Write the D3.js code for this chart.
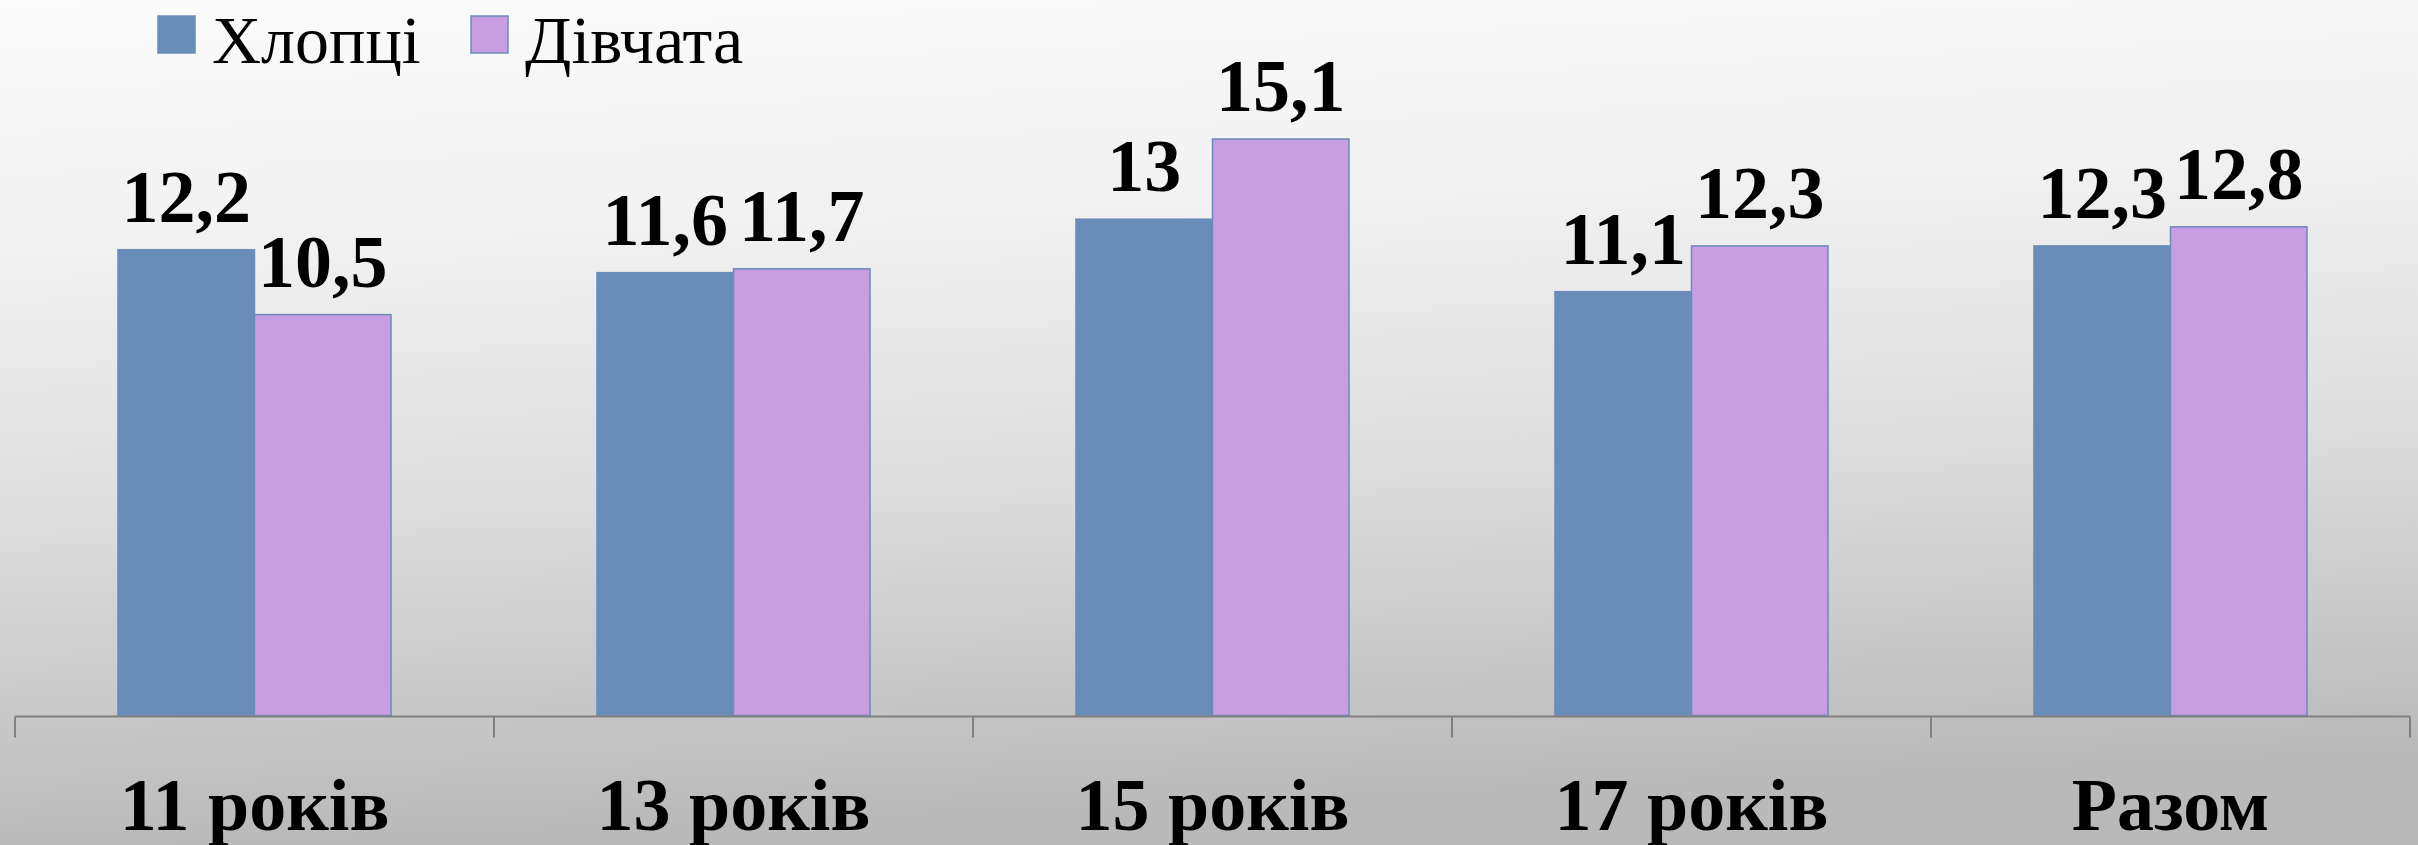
<!DOCTYPE html>
<html>
<head>
<meta charset="utf-8">
<script src="https://cdn.jsdelivr.net/npm/d3@7"></script>
<style>
  html, body { margin: 0; padding: 0; overflow: hidden; }
  svg { display: block; }
  text { font-family: "Liberation Serif", "Times New Roman", Times, "DejaVu Serif", serif; }
</style>
</head>
<body>
<svg id="chart" width="2418" height="845"></svg>
<script>
const categories = ["11 років", "13 років", "15 років", "17 років", "Разом"];
const seriesNames = ["Хлопці", "Дівчата"];
const boys = [12.2, 11.6, 13, 11.1, 12.3];
const girls = [10.5, 11.7, 15.1, 12.3, 12.8];
const valueLabels = [["12,2","11,6","13","11,1","12,3"], ["10,5","11,7","15,1","12,3","12,8"]];
const colors = ["#6a8cb9", "#c89ee2"];

const W = 2418, H = 845;
const svg = d3.select("#chart");
const defs = svg.append("defs");
const grad = defs.append("linearGradient").attr("id", "bg").attr("x1", 0).attr("y1", 0).attr("x2", 0.12).attr("y2", 1);
[[0, "#fbfbfb"], [0.3, "#f1f1f1"], [0.6, "#dedede"], [1, "#b9b9b9"]].forEach(([o, c]) =>
  grad.append("stop").attr("offset", o).attr("stop-color", c));
svg.append("rect").attr("width", W).attr("height", H).attr("fill", "url(#bg)");

const x0 = d3.scaleBand().domain(categories).range([15, 2410]).padding(0);
const bw = x0.bandwidth();
const x1 = d3.scaleBand().domain(seriesNames).range([bw * 0.215, bw * 0.785]).padding(0);
const y = d3.scaleLinear().domain([0, 18]).range([715.5, 28.3]);

const data = categories.map((c, i) => ({ cat: c, vals: [boys[i], girls[i]] }));

const groups = svg.append("g").selectAll("g").data(data).join("g")
  .attr("transform", d => `translate(${x0(d.cat)},0)`);

groups.selectAll("rect").data((d, i) => d.vals.map((v, s) => ({ v, s, i })))
  .join("rect")
  .attr("x", d => x1(seriesNames[d.s]))
  .attr("y", d => y(d.v))
  .attr("width", x1.bandwidth())
  .attr("height", d => y(0) - y(d.v))
  .attr("fill", d => colors[d.s])
  .attr("stroke", colors[0])
  .attr("stroke-width", 1.5);

groups.selectAll("text.val").data((d, i) => d.vals.map((v, s) => ({ v, s, i })))
  .join("text").attr("class", "val")
  .attr("x", d => x1(seriesNames[d.s]) + x1.bandwidth() / 2)
  .attr("y", d => y(d.v) - 28)
  .attr("text-anchor", "middle")
  .style("font-weight", "bold")
  .style("font-size", "74px")
  .attr("fill", "#000")
  .text(d => valueLabels[d.s][d.i]);

// axis
const axis = svg.append("g");
axis.append("line")
  .attr("x1", x0.range()[0]).attr("x2", x0.range()[1])
  .attr("y1", y(0) + 1).attr("y2", y(0) + 1)
  .attr("stroke", "#808080").attr("stroke-width", 2);
const boundaries = categories.map(c => x0(c)).concat([x0.range()[1]]);
axis.selectAll("line.tick").data(boundaries).join("line").attr("class", "tick")
  .attr("x1", d => d).attr("x2", d => d)
  .attr("y1", y(0) + 1).attr("y2", y(0) + 22)
  .attr("stroke", "#808080").attr("stroke-width", 2);
axis.selectAll("text").data(categories).join("text")
  .attr("x", d => x0(d) + bw / 2)
  .attr("y", 830)
  .attr("text-anchor", "middle")
  .style("font-weight", "bold")
  .style("font-size", "74px")
  .attr("fill", "#000")
  .text(d => d);

// legend
const legendX = [158, 471];
const lg = svg.append("g");
seriesNames.forEach((n, i) => {
  lg.append("rect").attr("x", legendX[i]).attr("y", 16).attr("width", 37).attr("height", 37)
    .attr("fill", colors[i]).attr("stroke", colors[0]).attr("stroke-width", 1.5);
  lg.append("text").attr("x", legendX[i] + 54).attr("y", 63)
    .style("font-size", "68px").attr("fill", "#000").text(n);
});
</script>
</body>
</html>
